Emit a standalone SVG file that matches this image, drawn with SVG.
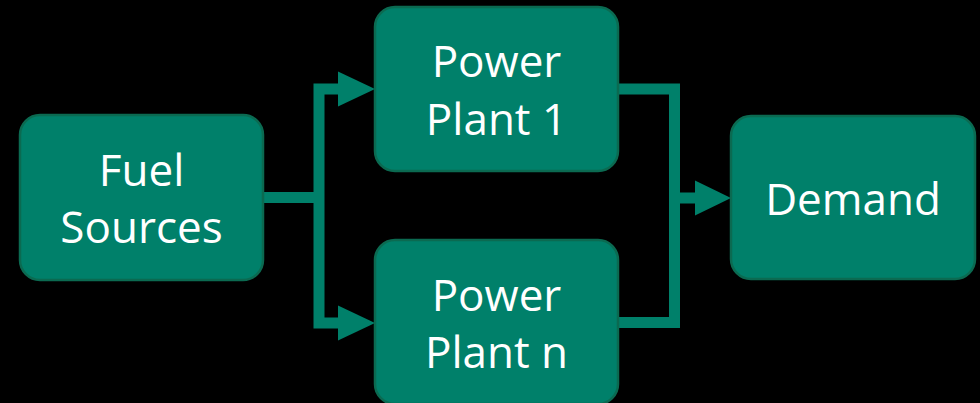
<svg xmlns="http://www.w3.org/2000/svg" width="980" height="403" viewBox="0 0 980 403">
<style>
.box{fill:#00806a;stroke:#0b6a51;stroke-width:2.5}
.lbl{font-family:"Open Sans","Liberation Sans",sans-serif;font-size:44px;fill:#ffffff;text-anchor:middle}
.conn{fill:none;stroke:#00806a;stroke-width:11;stroke-linejoin:miter}
.head{fill:#00806a}
</style>
<rect width="980" height="403" fill="#000000"/>
<g id="connectors">
<path class="conn" d="M263,197.5 H319"/>
<path class="conn" d="M341,89 H319 V323 H341"/>
<polygon class="head" points="338,71.5 375,89 338,106.5"/>
<polygon class="head" points="338,305.5 375,323 338,340.5"/>
<path class="conn" d="M618,89 H674.5 V322.5 H618"/>
<path class="conn" d="M674.5,198 H698"/>
<polygon class="head" points="695,180.5 731,198 695,215.5"/>
</g>
<g id="fuel-sources">
<rect class="box" x="20" y="115" width="243" height="165" rx="20"/>
<text class="lbl" x="141.5" y="186">Fuel</text>
<text class="lbl" x="141.5" y="243">Sources</text>
</g>
<g id="power-plant-1">
<rect class="box" x="375" y="7" width="243" height="164" rx="20"/>
<text class="lbl" x="496.5" y="77">Power</text>
<text class="lbl" x="496.5" y="135">Plant 1</text>
</g>
<g id="power-plant-n">
<rect class="box" x="375" y="240" width="243" height="164" rx="20"/>
<text class="lbl" x="496.5" y="311">Power</text>
<text class="lbl" x="496.5" y="368">Plant n</text>
</g>
<g id="demand">
<rect class="box" x="731" y="116" width="244" height="163" rx="20"/>
<text class="lbl" x="853" y="215">Demand</text>
</g>
</svg>
